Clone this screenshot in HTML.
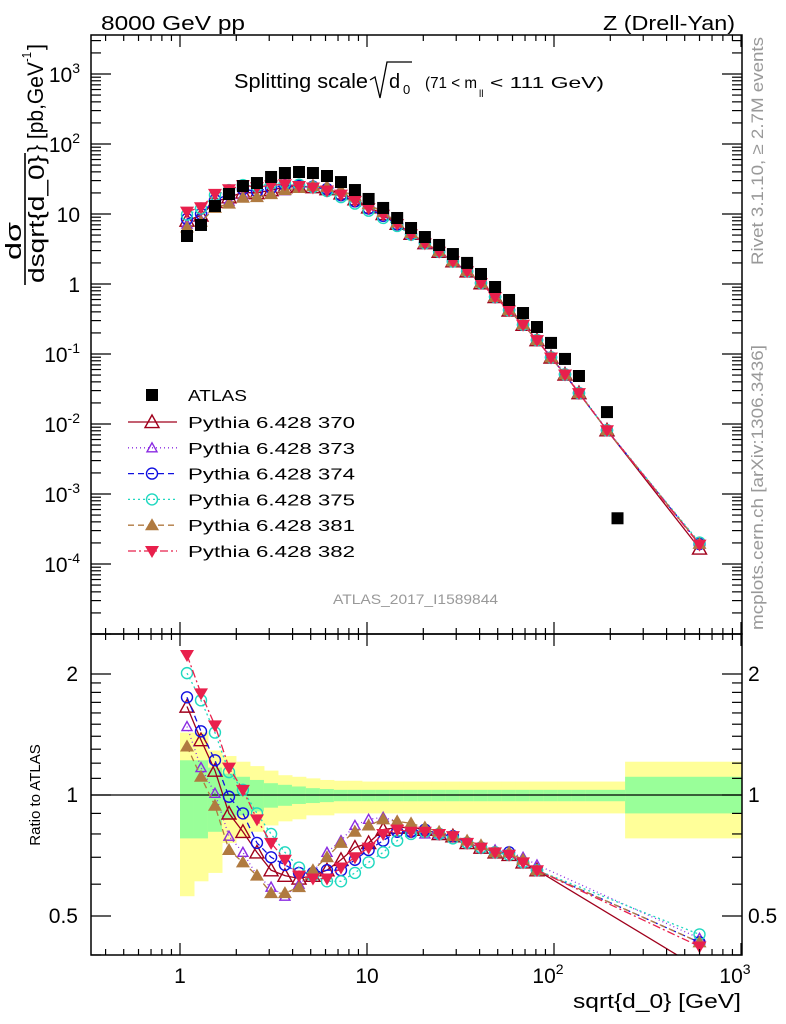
<!DOCTYPE html>
<html><head><meta charset="utf-8"><style>
body{margin:0;background:#fff;}
svg{display:block;font-family:"Liberation Sans",sans-serif;}
</style></head><body>
<svg id="c" width="786" height="1024" viewBox="0 0 786 1024">
<defs>
<clipPath id="cm"><rect x="91" y="35" width="651" height="599"/></clipPath>
<clipPath id="cr"><rect x="91" y="634" width="651" height="321"/></clipPath>
</defs>
<g id="bands" clip-path="url(#cr)"></g>
<g id="lines"></g>
<g id="axes"></g>
<text x="101" y="30" font-size="20" textLength="144" lengthAdjust="spacingAndGlyphs">8000 GeV pp</text>
<text x="603" y="30" font-size="20" textLength="132" lengthAdjust="spacingAndGlyphs">Z (Drell-Yan)</text>
<g>
<text x="234" y="88" font-size="20" textLength="134" lengthAdjust="spacingAndGlyphs">Splitting scale</text>
<path d="M370,80 L375,77 L380,98 L387,62 L412,62" fill="none" stroke="#000" stroke-width="1.3"/>
<text x="389" y="88" font-size="20">d</text><text x="403" y="94" font-size="13">0</text>
<text x="425" y="88" font-size="16" textLength="52" lengthAdjust="spacingAndGlyphs">(71 &lt; m</text><text x="479" y="97" font-size="10">ll</text><text x="490" y="88" font-size="16" textLength="114" lengthAdjust="spacingAndGlyphs">&lt; 111 GeV)</text>
</g>
<text x="333" y="604" font-size="14" fill="#999" textLength="165" lengthAdjust="spacingAndGlyphs">ATLAS_2017_I1589844</text>
<text transform="translate(763,265) rotate(-90)" font-size="17" fill="#999" textLength="228" lengthAdjust="spacingAndGlyphs">Rivet 3.1.10, ≥ 2.7M events</text>
<text transform="translate(763,630) rotate(-90)" font-size="17" fill="#999" textLength="285" lengthAdjust="spacingAndGlyphs">mcplots.cern.ch [arXiv:1306.3436]</text>
<g>
<text transform="translate(21,260) rotate(-90)" font-size="22" textLength="38" lengthAdjust="spacingAndGlyphs">dσ</text>
<line x1="25" y1="285" x2="25" y2="153" stroke="#000" stroke-width="1.6"/>
<text transform="translate(44,283) rotate(-90)" font-size="22" textLength="128" lengthAdjust="spacingAndGlyphs">dsqrt{d_0}</text>
<text transform="translate(43,152) rotate(-90)" font-size="22" textLength="90" lengthAdjust="spacingAndGlyphs">} [pb,GeV</text>
<text transform="translate(31,62) rotate(-90)" font-size="13" textLength="10" lengthAdjust="spacingAndGlyphs">-1</text>
<text transform="translate(43,50) rotate(-90)" font-size="22">]</text>
</g>
<text transform="translate(40,795) rotate(-90)" font-size="15" text-anchor="middle">Ratio to ATLAS</text>
<text x="573" y="1008" font-size="20" textLength="168" lengthAdjust="spacingAndGlyphs">sqrt{d_0} [GeV]</text>
<g id="legend"></g>
</svg>
<script>
const xVals=[1.09,1.295,1.538,1.828,2.17,2.58,3.07,3.64,4.33,5.14,6.11,7.26,8.62,10.2,12.2,14.5,17.2,20.4,24.3,28.8,34.3,40.7,48.4,57.5,68.3,81.1,96.4,114.5,136,192,600];
const atlas=[4.85,6.97,13.0,19.3,25.1,27.7,33.8,38.5,39.8,38.5,34.9,28.6,22.0,16.4,12.2,8.77,6.31,4.69,3.61,2.68,2.0,1.39,0.906,0.591,0.385,0.243,0.144,0.085,0.0485,0.0148,0.00045];
const r370=[1.66,1.37,1.15,0.90,0.81,0.72,0.65,0.63,0.62,0.63,0.65,0.69,0.74,0.76,0.82,0.83,0.83,0.82,0.80,0.79,0.76,0.74,0.72,0.71,0.68,0.65,0.62,0.60,0.57,0.55,0.37];
const r373=[1.48,1.17,1.01,0.79,0.72,0.63,0.59,0.56,0.60,0.64,0.72,0.77,0.84,0.87,0.88,0.86,0.81,0.80,0.80,0.79,0.77,0.75,0.73,0.72,0.70,0.67,0.64,0.62,0.59,0.56,0.44];
const r374=[1.75,1.44,1.22,0.99,0.90,0.76,0.70,0.67,0.64,0.64,0.65,0.65,0.69,0.73,0.77,0.81,0.81,0.82,0.80,0.79,0.76,0.74,0.72,0.72,0.68,0.65,0.62,0.60,0.57,0.55,0.43];
const r375=[2.01,1.72,1.43,1.14,1.03,0.90,0.80,0.72,0.66,0.63,0.61,0.61,0.64,0.68,0.72,0.77,0.80,0.81,0.80,0.78,0.76,0.74,0.72,0.71,0.68,0.65,0.62,0.60,0.57,0.55,0.45];
const r381=[1.32,1.11,0.94,0.73,0.68,0.63,0.57,0.57,0.59,0.65,0.70,0.76,0.81,0.84,0.87,0.86,0.85,0.83,0.81,0.79,0.77,0.75,0.72,0.72,0.69,0.65,0.62,0.60,0.57,0.55,0.43];
const r382=[2.23,1.79,1.49,1.17,1.03,0.87,0.76,0.69,0.63,0.62,0.62,0.66,0.70,0.74,0.80,0.82,0.81,0.81,0.80,0.79,0.76,0.74,0.72,0.71,0.68,0.65,0.62,0.60,0.57,0.55,0.42];
const binEdges=[1.0,1.188,1.411,1.677,1.992,2.366,2.811,3.34,3.97,4.71,5.60,6.65,7.90,9.39,11.15,13.25,15.74,18.7,22.2,26.4,31.3,37.2,44.2,52.5,62.4,74.1,88.0,104.6,124.2,147.6,240,1000];
const yelHi=[1.43,1.43,1.29,1.25,1.21,1.18,1.15,1.12,1.11,1.10,1.09,1.085,1.085,1.08,1.08,1.08,1.08,1.08,1.08,1.08,1.08,1.08,1.08,1.08,1.08,1.08,1.08,1.08,1.08,1.08,1.21];
const yelLo=[0.56,0.61,0.64,0.76,0.78,0.81,0.84,0.86,0.87,0.89,0.89,0.90,0.90,0.90,0.90,0.90,0.90,0.90,0.90,0.90,0.90,0.90,0.90,0.90,0.90,0.90,0.90,0.90,0.90,0.90,0.78];
const grnHi=[1.22,1.22,1.17,1.13,1.11,1.09,1.07,1.06,1.05,1.04,1.035,1.03,1.03,1.03,1.03,1.03,1.03,1.03,1.03,1.03,1.03,1.03,1.03,1.03,1.03,1.03,1.03,1.03,1.03,1.03,1.11];
const grnLo=[0.78,0.78,0.81,0.87,0.89,0.91,0.93,0.94,0.95,0.955,0.96,0.965,0.965,0.965,0.965,0.965,0.965,0.965,0.965,0.965,0.965,0.965,0.965,0.965,0.965,0.965,0.965,0.965,0.965,0.965,0.90];
const ratioHidden=[26,27,28,29];
const mainTicks=["10^3","10^2","10","1","10^-1","10^-2","10^-3","10^-4"];
const ratioTicks=["2","1","0.5"];
const xTicks=["1","10","10^2","10^3"];

const NS="http://www.w3.org/2000/svg";
const L=Math.log10;
const X=v=>180+187*L(v);
const YM=v=>284-70*L(v);
const YR=r=>795-402*L(r);
function el(t,a,p){const e=document.createElementNS(NS,t);for(const k in a)e.setAttribute(k,a[k]);(p||document.getElementById('c')).appendChild(e);return e;}

const bg=document.getElementById('bands');
for(let i=0;i<binEdges.length-1;i++){
 const x1=X(binEdges[i]),x2=X(binEdges[i+1]);
 const y=el('rect',{x:x1,y:YR(yelHi[i]),width:x2-x1+0.5,height:YR(yelLo[i])-YR(yelHi[i]),fill:'#ffff99'},bg);
 
 
 const g=el('rect',{x:x1,y:YR(grnHi[i]),width:x2-x1+0.5,height:YR(grnLo[i])-YR(grnHi[i]),fill:'#99ff99'},bg);
 
 
}
el('line',{x1:91,y1:795,x2:742,y2:795,stroke:'#000','stroke-width':1.2},bg);

function marker(p,type,color,x,y){
 let e;
 if(type==='sq') e=el('rect',{x:x-6,y:y-6,width:12,height:12,fill:'#000'},p);
 else if(type==='tri'||type==='tris') {const s=type==='tri'?7:5;e=el('path',{d:`M${x},${y-s} L${x+s},${y+s*0.8} L${x-s},${y+s*0.8}Z`,fill:'none',stroke:color,'stroke-width':1.4},p);}
 else if(type==='ftri') e=el('path',{d:`M${x},${y-7} L${x+7},${y+5} L${x-7},${y+5}Z`,fill:color},p);
 else if(type==='dtri') e=el('path',{d:`M${x},${y+7} L${x+7},${y-5} L${x-7},${y-5}Z`,fill:color},p);
 else e=el('circle',{cx:x,cy:y,r:5.5,fill:'none',stroke:color,'stroke-width':1.4},p);
 return e;
}
const models=[
 {n:'370',r:r370,c:'#a0001c',t:'tri',d:''},
 {n:'373',r:r373,c:'#8a2be2',t:'tris',d:'1,3'},
 {n:'374',r:r374,c:'#1010e0',t:'circ',d:'6,4'},
 {n:'375',r:r375,c:'#20d8c0',t:'circ',d:'2,3'},
 {n:'381',r:r381,c:'#b07a40',t:'ftri',d:'6,4'},
 {n:'382',r:r382,c:'#e8204c',t:'dtri',d:'8,3,2,3'}
];
const lines=document.getElementById('lines');
const gm=el('g',{'clip-path':'url(#cm)'},lines);
const gr=el('g',{'clip-path':'url(#cr)'},lines);
models.forEach(m=>{
 const s=el('g',{},gm);
 
 
 const ptsM=xVals.map((x,i)=>[X(x),YM(atlas[i]*m.r[i])]);
 el('polyline',{points:ptsM.map(p=>p.join(',')).join(' '),fill:'none',stroke:m.c,'stroke-width':1.3,'stroke-dasharray':m.d},s);
 ptsM.forEach(p=>marker(s,m.t,m.c,p[0],p[1]));
 const s2=el('g',{},gr);
 
 
 const ptsR=[];
 xVals.forEach((x,i)=>{if(!ratioHidden.includes(i))ptsR.push([X(x),YR(m.r[i])]);});
 el('polyline',{points:ptsR.map(p=>p.join(',')).join(' '),fill:'none',stroke:m.c,'stroke-width':1.3,'stroke-dasharray':m.d},s2);
 ptsR.forEach(p=>marker(s2,m.t,m.c,p[0],p[1]));
});
const ga=el('g',{},gm);


xVals.forEach((x,i)=>marker(ga,'sq','#000',X(x)+(i===xVals.length-1?-82:0),YM(atlas[i])));

const ax=document.getElementById('axes');
el('rect',{x:91,y:35,width:651,height:599,fill:'none',stroke:'#000','stroke-width':1.5},ax);
el('rect',{x:91,y:634,width:651,height:321,fill:'none',stroke:'#000','stroke-width':1.5},ax);
function tickLabel(txt,x,y,anchor,size){
 const t=el('text',{x:x,y:y,'font-size':size||21,'text-anchor':anchor},ax);
 const m=txt.match(/^10\^(.*)$/);
 if(m){t.textContent='10';const s=el('tspan',{dy:-9,'font-size':14},t);s.textContent=m[1];}
 else t.textContent=txt;
 
 
}
for(let d=-1;d<=3;d++){for(let k=1;k<10;k++){const v=Math.pow(10,d)*k;const x=X(v);if(x<91||x>742)continue;
 const len=k===1?12:6;
 [[35,1],[634,-1],[634,1],[955,-1]].forEach(([y,s])=>el('line',{x1:x,y1:y,x2:x,y2:y+s*len,stroke:'#000','stroke-width':1.2},ax));}}
xTicks.forEach((t,i)=>tickLabel(t,180+187*i+(i>1?-6:0),983,'middle'));
for(let d=-5;d<=3;d++){for(let k=1;k<10;k++){const v=Math.pow(10,d)*k;const y=YM(v);if(y<35||y>634)continue;
 const len=k===1?20:10;
 el('line',{x1:91,y1:y,x2:91+len,y2:y,stroke:'#000','stroke-width':1.2},ax);
 el('line',{x1:742,y1:y,x2:742-len,y2:y,stroke:'#000','stroke-width':1.2},ax);}}
mainTicks.forEach((t,i)=>{const y=YM(Math.pow(10,3-i));tickLabel(t,80,y+8,'end');});
[0.4,0.5,0.6,0.7,0.8,0.9,1,1.1,1.2,1.3,1.4,1.5,1.6,1.7,1.8,1.9,2].forEach(r=>{const y=YR(r);if(y>955)return;const len=(r===0.5||r===1||r===2)?20:10;
 el('line',{x1:91,y1:y,x2:91+len,y2:y,stroke:'#000','stroke-width':1.2},ax);
 el('line',{x1:742,y1:y,x2:742-len,y2:y,stroke:'#000','stroke-width':1.2},ax);});
[2,1,0.5].forEach((r,i)=>{tickLabel(ratioTicks[i],78,YR(r)+7,'end');tickLabel(ratioTicks[i],748,YR(r)+7,'start');});

const lg=document.getElementById('legend');
const ae=el('g',{},lg);


marker(ae,'sq','#000',152,395);
const at=el('text',{x:188,y:401,'font-size':16,textLength:59,lengthAdjust:'spacingAndGlyphs'},ae);at.textContent='ATLAS';
models.forEach((m,i)=>{const y=422+i*25.8;
 const g=el('g',{},lg);
 
 
 el('line',{x1:128,y1:y,x2:177,y2:y,stroke:m.c,'stroke-width':1.3,'stroke-dasharray':m.d},g);
 marker(g,m.t,m.c,152,y);
 const t=el('text',{x:188,y:y+6,'font-size':16,textLength:167,lengthAdjust:'spacingAndGlyphs'},g);t.textContent='Pythia 6.428 '+m.n;});
</script>
</body></html>
